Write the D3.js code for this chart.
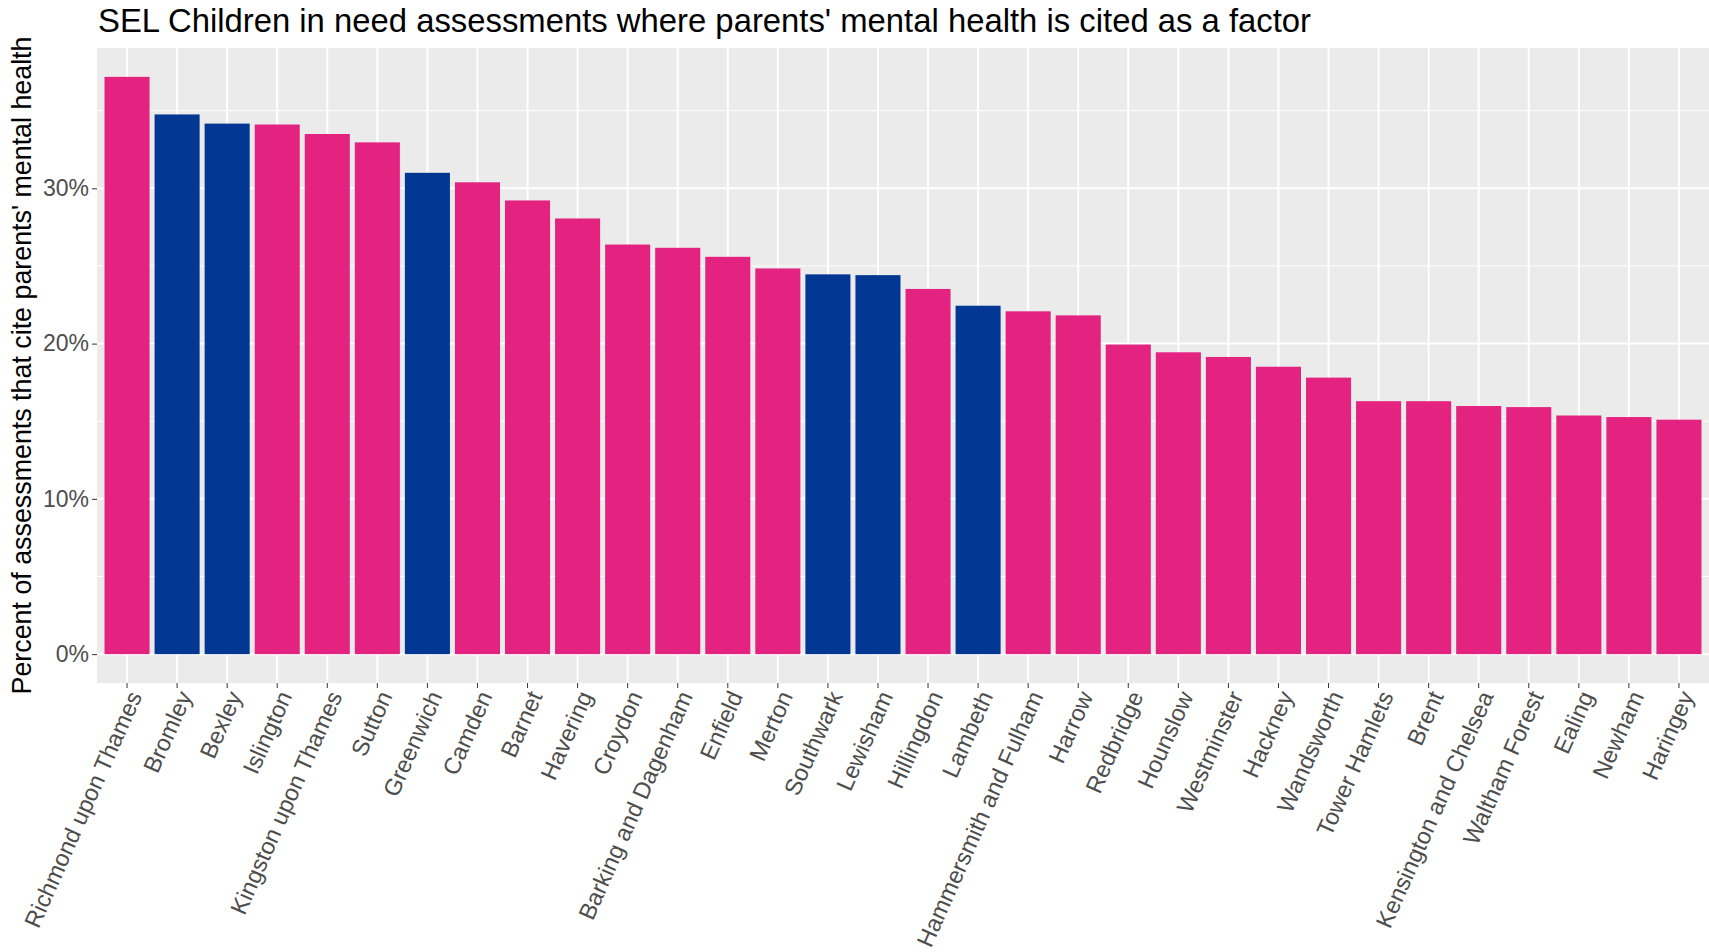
<!DOCTYPE html>
<html><head><meta charset="utf-8">
<script src="https://cdn.jsdelivr.net/npm/d3@7"></script>
<style>
body{margin:0;background:#fff;}
svg{display:block;font-family:"Liberation Sans",Arial,sans-serif;}
</style>
</head><body>
<svg id="c" width="1709" height="952"></svg>
<script>
const boroughs = ["Richmond upon Thames","Bromley","Bexley","Islington","Kingston upon Thames","Sutton","Greenwich","Camden","Barnet","Havering","Croydon","Barking and Dagenham","Enfield","Merton","Southwark","Lewisham","Hillingdon","Lambeth","Hammersmith and Fulham","Harrow","Redbridge","Hounslow","Westminster","Hackney","Wandsworth","Tower Hamlets","Brent","Kensington and Chelsea","Waltham Forest","Ealing","Newham","Haringey"];
const values = [0.3718,0.3476,0.3417,0.3411,0.3350,0.3296,0.3100,0.3039,0.2922,0.2806,0.2638,0.2617,0.2559,0.2484,0.2446,0.2441,0.2352,0.2244,0.2208,0.2182,0.1994,0.1944,0.1914,0.1851,0.1781,0.1629,0.1629,0.1598,0.1591,0.1537,0.1527,0.1510];
const isSEL = ["Bromley","Bexley","Greenwich","Southwark","Lewisham","Lambeth"];
const yTicks = [0,0.1,0.2,0.3];
const yMinor = [0.05,0.15,0.25,0.35];
const titleText = "SEL Children in need assessments where parents' mental health is cited as a factor";
const yTitleText = "Percent of assessments that cite parents' mental health";

const pink = "#E4227F", blue = "#023893";
const svg = d3.select("#c");
const P = {left:97, right:1709, top:48, bottom:683};

const maxV = d3.max(values);
const y = d3.scaleLinear().domain([-0.05*maxV, 1.05*maxV]).range([P.bottom, P.top]);
const x = d3.scaleBand().domain(boroughs).range([P.left, P.right]).paddingInner(0.1).paddingOuter(0.15);

// panel
svg.append("rect").attr("x",P.left).attr("y",P.top).attr("width",P.right-P.left).attr("height",P.bottom-P.top).attr("fill","#EBEBEB");
const g = svg.append("g");
g.selectAll(".ymin").data(yMinor).enter().append("line")
  .attr("x1",P.left).attr("x2",P.right).attr("y1",d=>y(d)).attr("y2",d=>y(d))
  .attr("stroke","#fff").attr("stroke-width",1);
g.selectAll(".ymaj").data(yTicks).enter().append("line")
  .attr("x1",P.left).attr("x2",P.right).attr("y1",d=>y(d)).attr("y2",d=>y(d))
  .attr("stroke","#fff").attr("stroke-width",2);
g.selectAll(".xmaj").data(boroughs).enter().append("line")
  .attr("x1",d=>x(d)+x.bandwidth()/2).attr("x2",d=>x(d)+x.bandwidth()/2)
  .attr("y1",P.top).attr("y2",P.bottom)
  .attr("stroke","#fff").attr("stroke-width",2);

// bars
g.selectAll(".bar").data(boroughs).enter().append("rect")
  .attr("x",d=>x(d)).attr("width",x.bandwidth())
  .attr("y",(d,i)=>y(values[i])).attr("height",(d,i)=>y(0)-y(values[i]))
  .attr("fill",d=>isSEL.includes(d)?blue:pink);

// y axis
const yAxis = d3.axisLeft(y).tickValues(yTicks).tickFormat(d3.format(".0%")).tickSize(5).tickPadding(3);
const ya = svg.append("g").attr("transform",`translate(${P.left},0)`).call(yAxis);
ya.select(".domain").remove();
ya.selectAll("line").attr("stroke","#333").attr("stroke-width",1);
ya.selectAll("text").attr("fill","#4D4D4D").style("font-size","23px").attr("font-family",null);

// x axis
const xAxis = d3.axisBottom(x).tickSize(5).tickPadding(0);
const xa = svg.append("g").attr("transform",`translate(0,${P.bottom})`).call(xAxis);
xa.select(".domain").remove();
xa.selectAll("line").attr("stroke","#333").attr("stroke-width",1);
xa.selectAll("text").attr("fill","#4D4D4D").style("font-size","23.5px").attr("font-family",null)
  .attr("text-anchor","end").attr("y",0).attr("dy","0.72em")
  .attr("transform","translate(0,6) rotate(-66)");

// title
const t = svg.append("text").attr("x",98).attr("y",32).attr("fill","#000").style("font-size","30px").text(titleText);
const tw = t.node().getComputedTextLength();
t.style("font-size",(30*1213/tw).toFixed(2)+"px");

const yt = svg.append("text").attr("transform",`translate(31,${(P.top+P.bottom)/2}) rotate(-90)`)
  .attr("text-anchor","middle").attr("fill","#000").style("font-size","24px").text(yTitleText);
const yw = yt.node().getComputedTextLength();
yt.style("font-size",(24*658/yw).toFixed(2)+"px");
</script>
</body></html>
